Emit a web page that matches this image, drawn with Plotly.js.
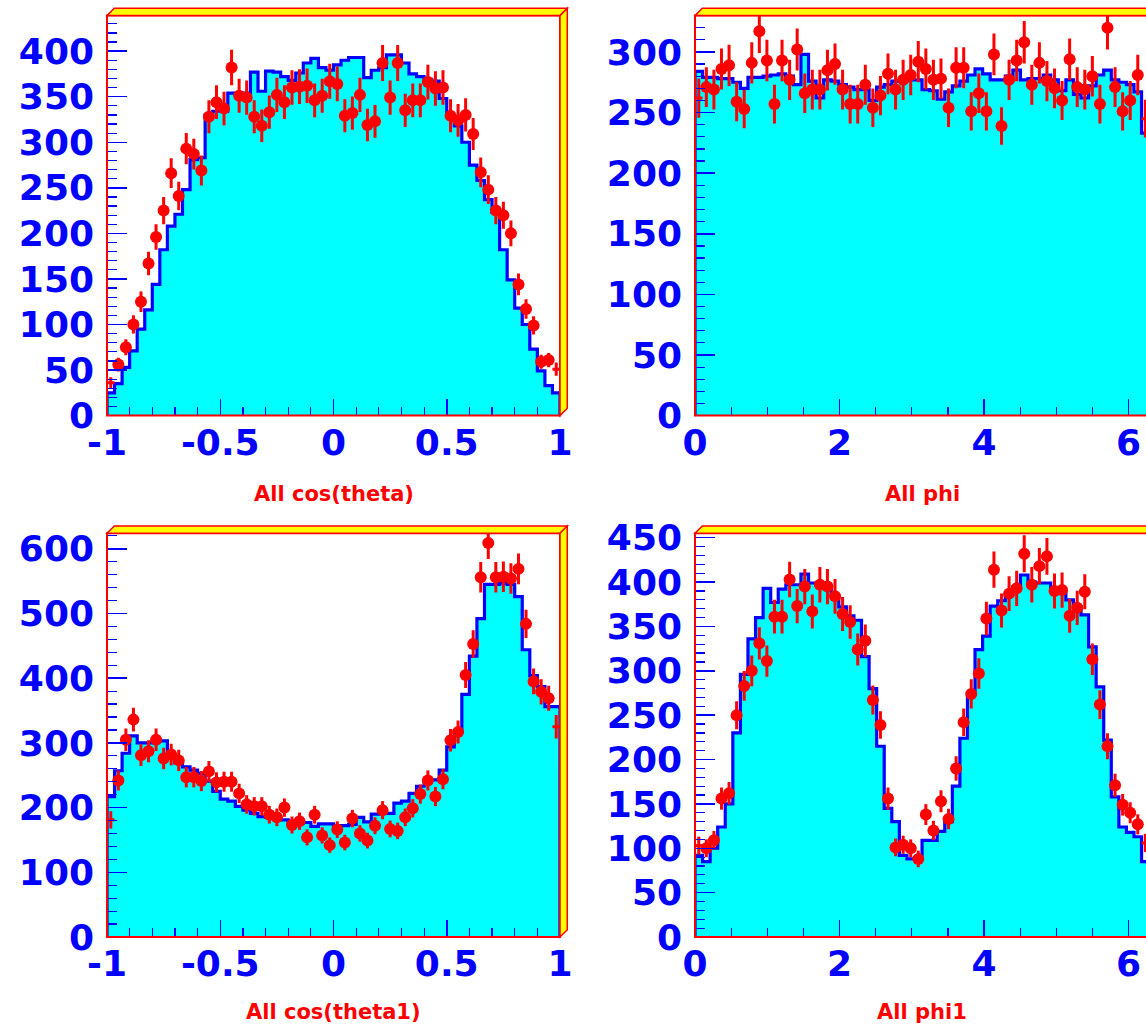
<!DOCTYPE html>
<html><head><meta charset="utf-8">
<script src="https://cdn.plot.ly/plotly-3.0.1.min.js"></script>
<style>html,body{margin:0;padding:0;background:#fff;} #chart{width:1146px;height:1029px;}</style>
</head><body><div id="chart"></div>
<script>
// ---------------- data ----------------
const NBINS = 60;
const cosLimits = [-1, 1];
const phiLimits = [0, 2 * Math.PI];
const cosTickVals = [-1, -0.5, 0, 0.5, 1];
const cosTickText = ["-1", "-0.5", "0", "0.5", "1"];
const phiTickVals = [0, 2, 4, 6];
const phiTickText = ["0", "2", "4", "6"];
const titles = ["All cos(theta)", "All phi", "All cos(theta1)", "All phi1"];

// red points (data)
const cosThetaData = [36,56,75,100,125,167,196,225,266,241, 293,287,269,328,344,337,382,351,349,328,
  318,333,352,344,360,361,362,346,351,367, 364,329,332,352,319,323,387,349,387,335,
  346,346,366,359,360,329,324,330,309,267, 248,225,220,200,144,117,99,59,61,51];
const phiData = [262,271,269,286,289,259,253,291,317,293, 257,293,277,302,266,269,269,285,290,269,
  257,257,273,254,264,282,269,277,281,292, 286,277,278,254,287,287,251,266,251,298,
  239,277,293,308,273,291,276,270,260,294, 271,269,280,257,320,271,251,260,281,245];
const cosTheta1Data = [181,242,305,336,281,287,305,276,282,273, 247,247,241,256,239,240,240,222,205,202,
  202,189,185,200,173,179,154,189,157,142, 166,146,183,160,149,172,196,167,164,185,
  199,221,242,217,244,304,317,405,453,556, 609,556,557,554,569,484,395,379,369,325];
const phi1Data = [103,100,109,156,162,250,283,300,331,311, 361,361,403,373,395,367,397,395,384,364,
  355,324,334,267,239,156,101,104,100,88, 138,120,153,133,190,242,274,297,359,414,
  368,387,393,432,397,418,429,390,391,362, 371,389,313,262,215,171,149,140,127,106];

// cyan histograms (simulation)
const cosThetaMC = [25,35,53,71,95,116,144,182,208,221, 248,281,283,330,334,334,354,354,354,377,
  356,378,377,372,368,376,387,392,382,379, 385,390,393,393,371,379,382,396,396,387,
  375,372,369,367,348,328,318,300,275,258, 237,223,182,149,118,100,73,49,33,25];
const phiMC = [284,279,279,278,278,275,270,279,279,280, 281,282,280,273,298,276,262,277,276,273,
  271,269,269,260,271,273,276,276,277,277, 269,268,261,267,272,276,281,286,282,277,
  277,280,285,277,278,278,281,277,268,277, 265,262,272,281,285,277,275,273,267,233];
const cosTheta1MC = [217,257,284,311,300,300,302,303,281,269, 263,258,253,241,225,213,210,202,196,191,
  186,185,184,181,177,176,177,171,175,175, 172,172,174,185,178,190,191,191,207,210,
  222,233,243,243,258,294,318,375,434,492, 545,545,547,545,526,444,404,387,356,356];
const phi1MC = [92,85,100,124,150,230,296,336,360,393, 377,392,397,397,409,399,399,396,385,372,
  362,357,316,280,215,145,130,92,88,88, 109,109,119,130,170,224,275,324,339,373,
  379,386,395,408,400,399,399,390,389,380, 372,363,327,282,222,158,124,118,113,85];

// ---------------- layout geometry (pixels) ----------------
const W = 1146, H = 1029;
const panels = [
  {data: cosThetaData, mc: cosThetaMC, lim: cosLimits, L:107, R:560, T:15.6, B:415.6, xr:[-1,1], yr:[0,439], ydt:50, ymin:10, xtv:cosTickVals, xtt:cosTickText, xmin:0.1},
  {data: phiData, mc: phiMC, lim: phiLimits, L:695, R:1149, T:15.6, B:415.6, xr:[0,6.24], yr:[0,330], ydt:50, ymin:10, xtv:phiTickVals, xtt:phiTickText, xmin:0.5},
  {data: cosTheta1Data, mc: cosTheta1MC, lim: cosLimits, L:107, R:560, T:533.3, B:937, xr:[-1,1], yr:[0,624], ydt:100, ymin:20, xtv:cosTickVals, xtt:cosTickText, xmin:0.1},
  {data: phi1Data, mc: phi1MC, lim: phiLimits, L:695, R:1149, T:533.3, B:937, xr:[0,6.24], yr:[0,455], ydt:50, ymin:10, xtv:phiTickVals, xtt:phiTickText, xmin:0.5}
];
const titleY = [494, 494, 1012, 1012];

const px = x => x / W;
const py = y => 1 - y / H;
const BLUE = '#0000ff', RED = '#ff0000', CYAN = '#00ffff', YEL = '#ffff00';

const traces = [], shapes = [], annotations = [];
const layout = {
  width: W, height: H, margin: {l:0, r:0, t:0, b:0},
  paper_bgcolor: '#ffffff', plot_bgcolor: '#ffffff',
  showlegend: false, font: {family: 'DejaVu Sans'}
};

panels.forEach((p, k) => {
  const n = NBINS, lo = p.lim[0], hi = p.lim[1], w = (hi - lo) / n;
  const ax = k === 0 ? '' : String(k + 1);
  // histogram outline built from bin edges
  const hx = [lo], hy = [0];
  for (let i = 0; i < n; i++) { hx.push(lo + i * w); hy.push(p.mc[i]); }
  hx.push(hi); hy.push(p.mc[n - 1]);
  hx.push(hi); hy.push(0);
  traces.push({
    type: 'scatter', mode: 'lines', x: hx, y: hy, xaxis: 'x' + ax, yaxis: 'y' + ax,
    line: {shape: 'hv', color: BLUE, width: 3.2}, fill: 'tozeroy', fillcolor: CYAN,
    hoverinfo: 'skip'
  });
  const cx = [], sizes = [];
  for (let i = 0; i < n; i++) { cx.push(lo + (i + 0.5) * w); sizes.push(i === 0 || i === n - 1 ? 0 : 12); }
  traces.push({
    type: 'scatter', mode: 'markers', x: cx, y: p.data, xaxis: 'x' + ax, yaxis: 'y' + ax,
    marker: {color: RED, size: sizes, opacity: 1, symbol: 'circle', line: {width: 0}},
    opacity: 1,
    error_y: {type: 'sqrt', color: RED, thickness: 3, width: 0},
    error_x: {type: 'constant', value: w / 2, color: RED, thickness: 3, width: 0}
  });
  const xdom = [px(p.L), Math.min(1, px(p.R))];
  const ydom = [py(p.B), py(p.T)];
  layout['xaxis' + ax] = {
    domain: xdom, anchor: 'y' + ax, range: p.xr, tickmode: 'array', tickvals: p.xtv, ticktext: p.xtt,
    ticks: 'inside', ticklen: 17, tickwidth: 1.5, tickcolor: BLUE,
    minor: {tickmode: 'linear', tick0: 0, dtick: p.xmin, ticks: 'inside', ticklen: 9, tickwidth: 1.2, tickcolor: BLUE, showgrid: false},
    showgrid: false, zeroline: false, showline: false, fixedrange: true,
    tickfont: {family: 'DejaVu Sans', size: 36, color: BLUE, weight: 'bold'},
    ticklabelstandoff: 2
  };
  layout['yaxis' + ax] = {
    domain: ydom, anchor: 'x' + ax, range: p.yr, tickmode: 'linear', tick0: 0, dtick: p.ydt,
    ticks: 'inside', ticklen: 20, tickwidth: 1.5, tickcolor: BLUE,
    minor: {tickmode: 'linear', tick0: 0, dtick: p.ymin, ticks: 'inside', ticklen: 10, tickwidth: 1.2, tickcolor: BLUE, showgrid: false},
    showgrid: false, zeroline: false, showline: false, fixedrange: true,
    tickfont: {family: 'DejaVu Sans', size: 36, color: BLUE, weight: 'bold'},
    ticklabelstandoff: 12
  };
  // frame
  shapes.push({type: 'rect', xref: 'paper', yref: 'paper', x0: px(p.L), x1: px(p.R), y0: py(p.B), y1: py(p.T),
    line: {color: RED, width: 2}, fillcolor: 'rgba(0,0,0,0)', layer: 'above'});
  const d = 7.3;
  shapes.push({type: 'path', xref: 'paper', yref: 'paper', layer: 'above',
    path: `M${px(p.L)},${py(p.T)} L${px(p.L + d)},${py(p.T - d)} L${px(p.R + d)},${py(p.T - d)} L${px(p.R)},${py(p.T)} Z`,
    fillcolor: YEL, line: {color: RED, width: 1.5}});
  shapes.push({type: 'path', xref: 'paper', yref: 'paper', layer: 'above',
    path: `M${px(p.R)},${py(p.T)} L${px(p.R + d)},${py(p.T - d)} L${px(p.R + d)},${py(p.B - d)} L${px(p.R)},${py(p.B)} Z`,
    fillcolor: YEL, line: {color: RED, width: 1.5}});
  annotations.push({text: titles[k], xref: 'paper', yref: 'paper', x: px((p.L + p.R) / 2), y: py(titleY[k]),
    xanchor: 'center', yanchor: 'middle', showarrow: false,
    font: {family: 'DejaVu Sans', size: 21, color: RED, weight: 'bold'}});
});
layout.shapes = shapes;
layout.annotations = annotations;
Plotly.newPlot('chart', traces, layout, {displayModeBar: false, staticPlot: true});
</script>
</body></html>
